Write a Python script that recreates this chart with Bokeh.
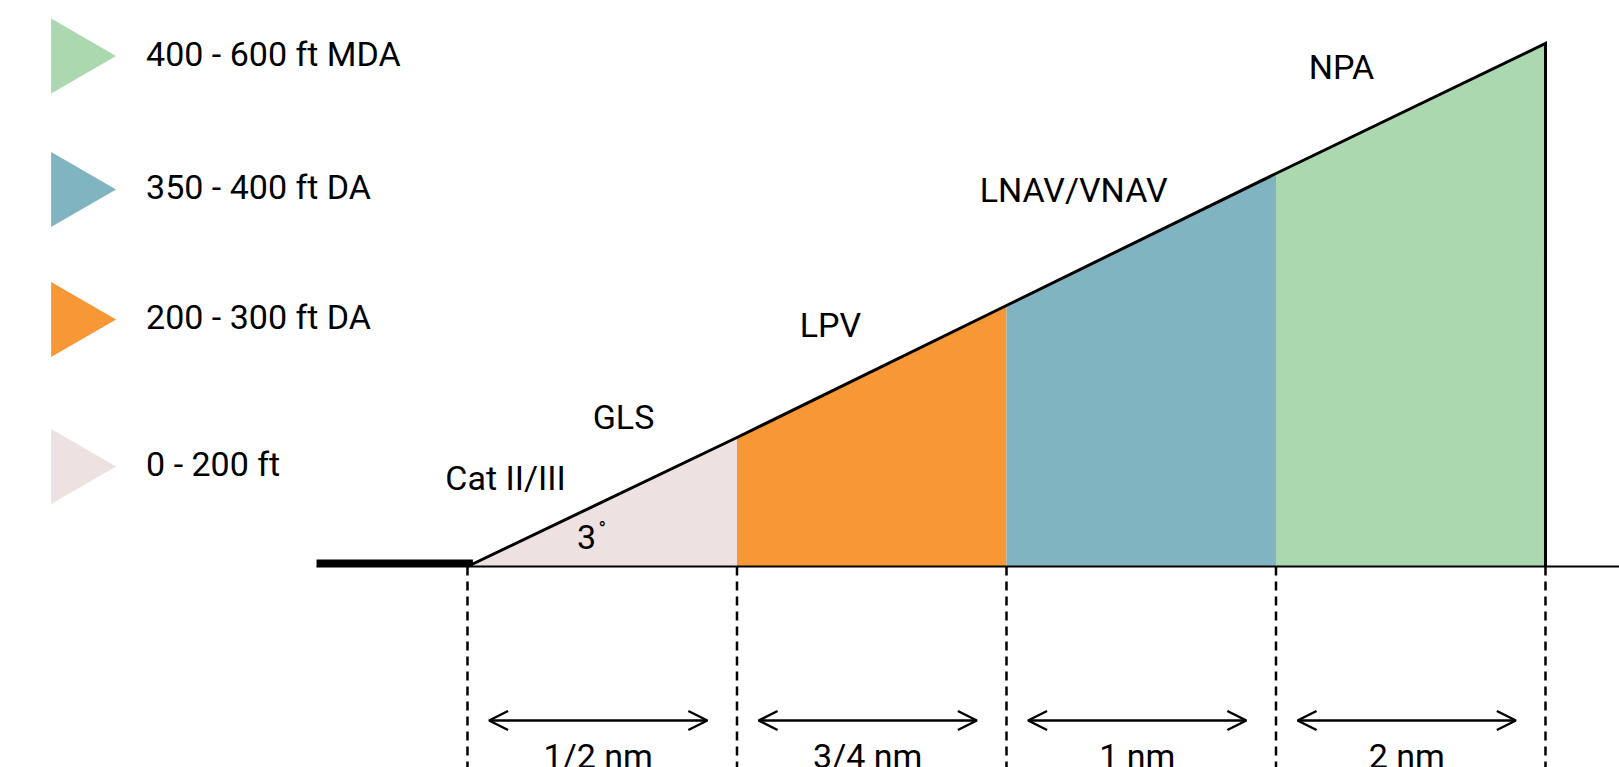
from math import pi
from bokeh.plotting import figure
from bokeh.models import Range1d, ColumnDataSource, Arrow, OpenHead
from bokeh.core.properties import value
from bokeh.embed import file_html
from bokeh.resources import INLINE

# ---------------- data ----------------
boundaries = [0, 1, 2, 3, 4]                      # segment boundaries (equal-width segments)
top_heights = [0.0, 1.29, 2.61, 3.93, 5.23]       # glide-path height at each boundary
band_labels = ["0 - 200 ft", "200 - 300 ft DA", "350 - 400 ft DA", "400 - 600 ft MDA"]
band_colors = ["#EDE1E1", "#F79735", "#80B4C1", "#ABD8AE"]
distance_labels = ["1/2 nm", "3/4 nm", "1 nm", "2 nm"]
approach_names = ["Cat II/III", "GLS", "LPV", "LNAV/VNAV", "NPA"]
approach_x = [0.141, 0.579, 1.347, 2.249, 3.243]
approach_y = [0.885, 1.495, 2.415, 3.765, 4.995]
angle_label = "3"
runway_start = -0.56

# legend layout (top to bottom)
legend_order = [3, 2, 1, 0]
legend_marker_y = [5.105, 3.77, 2.47, 1.00]
legend_text_y = [5.13, 3.795, 2.495, 1.025]
legend_marker_x = -1.4646
legend_text_x = -1.1926

FONT = value("Roboto")
W, H = 1619, 767

p = figure(width=W, height=H, output_backend="svg", toolbar_location=None,
           x_range=Range1d(-1.7328, 4.2746), y_range=Range1d(-2.01, 5.66),
           x_axis_location=None, y_axis_location=None, min_border=0,
           background_fill_color="white", border_fill_color="white")
p.outline_line_color = None
p.grid.visible = False

# coloured bands under the glide path
xs, ys = [], []
for i in range(4):
    xs.append([boundaries[i], boundaries[i + 1], boundaries[i + 1], boundaries[i]])
    ys.append([0, 0, top_heights[i + 1], top_heights[i]])
p.patches(xs=xs, ys=ys, fill_color=band_colors, line_color=None)

# thin ground line
p.segment(x0=[runway_start], y0=[0], x1=[6], y1=[0], line_color="black", line_width=2)
# thick runway
p.segment(x0=[runway_start], y0=[0.035], x1=[boundaries[0] + 0.02], y1=[0.035],
          line_color="black", line_width=7, line_cap="butt")

# glide path + right vertical edge
p.line(x=boundaries + [boundaries[-1]], y=top_heights + [0], line_color="black",
       line_width=3, line_join="miter")

# dashed vertical boundary lines
p.segment(x0=boundaries, y0=[0] * 5, x1=boundaries, y1=[-2.3] * 5,
          line_color="black", line_width=2.5, line_dash="9 6")

# distance arrows
arr_src = ColumnDataSource(dict(
    x0=[b + 0.08 for b in boundaries[:-1]], x1=[b + 0.89 for b in boundaries[:-1]],
    y0=[-1.54] * 4, y1=[-1.54] * 4))
p.add_layout(Arrow(start=OpenHead(size=19, line_width=2.5, line_color="black"),
                   end=OpenHead(size=19, line_width=2.5, line_color="black"),
                   x_start="x0", y_start="y0", x_end="x1", y_end="y1",
                   source=arr_src, line_width=2.5, line_color="black"))

# distance labels (cut by the bottom edge)
p.text(x=[b + 0.485 for b in boundaries[:-1]], y=[-1.895] * 4, text=distance_labels,
       text_font=FONT, text_font_size="34px", text_align="center",
       text_baseline="alphabetic", text_color="black")

# approach names
p.text(x=approach_x, y=approach_y, text=approach_names, text_font=FONT,
       text_font_size="34px", text_align="center", text_baseline="alphabetic",
       text_color="black")

# glide angle
p.text(x=[0.4416], y=[0.295], text=[angle_label], text_font=FONT, text_font_size="34px",
       text_align="center", text_baseline="alphabetic", text_color="black")
p.text(x=[0.486], y=[0.38], text=["°"], text_font=FONT, text_font_size="20px",
       text_align="left", text_baseline="alphabetic", text_color="black")

# legend
p.scatter(x=[legend_marker_x] * 4, y=legend_marker_y, marker="triangle", size=75,
          angle=-pi / 2, fill_color=[band_colors[i] for i in legend_order],
          line_color=None)
p.text(x=[legend_text_x] * 4, y=legend_text_y, text=[band_labels[i] for i in legend_order],
       text_font=FONT, text_font_size="34px", text_align="left",
       text_baseline="alphabetic", text_color="black")

open("out.html", "w").write(file_html(p, INLINE))
